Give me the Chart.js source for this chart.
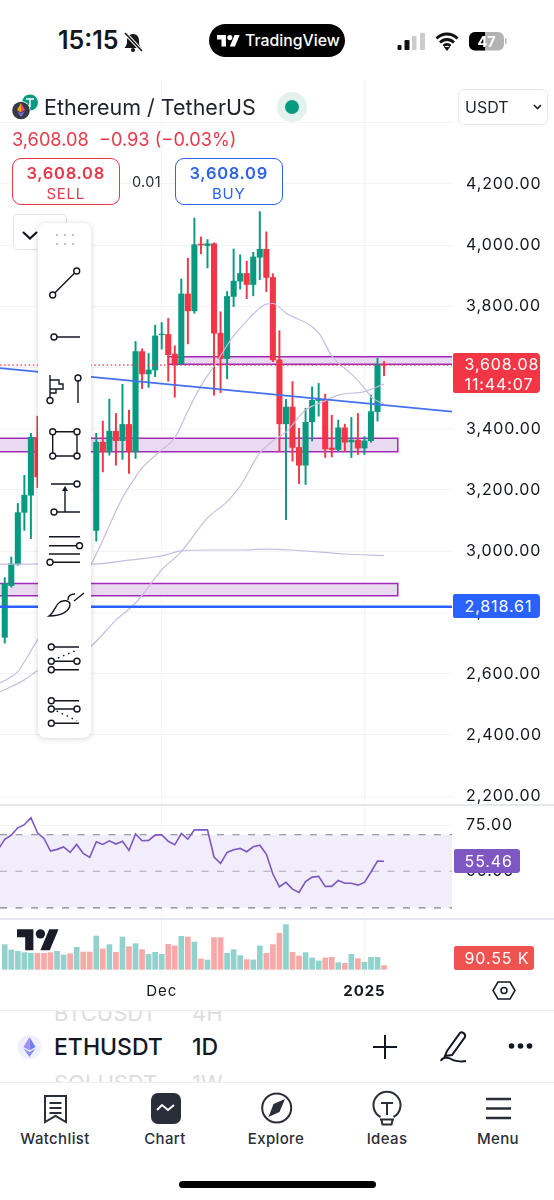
<!DOCTYPE html>
<html><head><meta charset="utf-8">
<script src="https://cdn.jsdelivr.net/npm/chart.js@4/dist/chart.umd.js"></script>
<style>
html,body{margin:0;padding:0;background:#fff;overflow:hidden}
#page{position:relative;width:554px;height:1200px;overflow:hidden;background:#fff;font-family:Inter,"Noto Sans",sans-serif;color:#131722}
canvas{position:absolute;left:0;display:block}
.t{position:absolute;white-space:nowrap;line-height:1}
.tag{letter-spacing:.9px;color:#fff;font-size:16px;left:464.5px}
.nav{width:110px;text-align:center;top:1131px;font-size:15px;letter-spacing:.35px;font-weight:500;color:#2a2e39}
.box{position:absolute;box-sizing:border-box}
svg{position:absolute;left:0;top:0}
</style></head><body><div id="page">
<canvas id="price" width="554" height="725" style="top:80px"></canvas>
<canvas id="rsi" width="554" height="113" style="top:805px"></canvas>
<canvas id="vol" width="554" height="92" style="top:918px"></canvas>

<div class="box" style="left:0;top:804px;width:554px;height:2px;background:#e6e8ef"></div>
<div class="box" style="left:0;top:917.5px;width:554px;height:2px;background:#e6e8ef"></div>

<!-- header -->
<div class="t" style="left:58px;top:28px;font-size:25px;font-weight:600;color:#16171a">15:15</div>
<div class="box" style="left:208.5px;top:24px;width:136.5px;height:33px;border-radius:17px;background:#000"></div>
<div class="t" style="left:245px;top:33px;font-size:15.8px;font-weight:500;color:#fff">TradingView</div>

<div class="t" style="left:44px;top:97px;font-size:21.5px;color:#1e222d">Ethereum / TetherUS</div>
<div class="box" style="left:458px;top:89px;width:90px;height:36px;border:1.5px solid #e4e7ee;border-radius:6px"></div>
<div class="t" style="left:465px;top:99px;font-size:16px;color:#1e222d">USDT</div>
<div class="t" style="left:12px;top:130px;font-size:18.2px;color:#e8394a">3,608.08 &nbsp;−0.93 (−0.03%)</div>

<div class="box" style="left:11.5px;top:158px;width:108.5px;height:47px;border:1.5px solid #e8394a;border-radius:9px;background:#fff"></div>
<div class="t" style="left:11.5px;width:108.5px;text-align:center;top:165px;font-size:16.5px;letter-spacing:.7px;font-weight:600;color:#e8394a">3,608.08</div>
<div class="t" style="left:11.5px;width:108.5px;text-align:center;top:186px;font-size:15px;letter-spacing:.7px;color:#e8394a">SELL</div>
<div class="t" style="left:132px;top:175px;font-size:14.5px;letter-spacing:.3px;color:#2a2e39">0.01</div>
<div class="box" style="left:174.5px;top:158px;width:108.5px;height:47px;border:1.5px solid #2f64e8;border-radius:9px;background:#fff"></div>
<div class="t" style="left:174.5px;width:108.5px;text-align:center;top:165px;font-size:16.5px;letter-spacing:.7px;font-weight:600;color:#2f64e8">3,608.09</div>
<div class="t" style="left:174.5px;width:108.5px;text-align:center;top:186px;font-size:15px;letter-spacing:.7px;color:#2f64e8">BUY</div>
<div class="box" style="left:13px;top:214px;width:54px;height:36px;border:1.5px solid #e0e3eb;border-radius:5px;background:#fff"></div>

<!-- price tags -->
<div class="box" style="left:453px;top:353px;width:87px;height:40px;background:#f23645;border-radius:2px 4px 4px 2px"></div>
<div class="t tag" style="top:356px">3,608.08</div>
<div class="t tag" style="top:376px">11:44:07</div>
<div class="box" style="left:453px;top:594px;width:87px;height:24px;background:#2962ff;border-radius:2px 4px 4px 2px"></div>
<div class="t tag" style="top:598px">2,818.61</div>
<div class="box" style="left:453.5px;top:849px;width:66px;height:24px;background:#7e57c2;border-radius:2px 3px 3px 2px"></div>
<div class="t tag" style="top:853px">55.46</div>
<div class="box" style="left:453.5px;top:946px;width:80.5px;height:24px;background:#ef5350;border-radius:2px 3px 3px 2px"></div>
<div class="t tag" style="top:950px">90.55 K</div>

<!-- toolbar -->
<div class="box" style="left:38px;top:223px;width:53px;height:515px;background:#fff;border-radius:8px;box-shadow:0 1px 6px rgba(20,25,40,.18)"></div>

<!-- footer -->
<div class="box" style="left:0;top:1010px;width:554px;height:73px;overflow:hidden;border-top:1px solid #eceef2;border-bottom:1px solid #eceef2">
 <div class="t" style="left:54px;top:-9px;font-size:22px;color:#dcdde0">BTCUSDT</div>
 <div class="t" style="left:192px;top:-9px;font-size:22px;color:#dcdde0">4H</div>
 <div class="t" style="left:54px;top:25px;font-size:23px;font-weight:500;color:#131722">ETHUSDT</div>
 <div class="t" style="left:192px;top:25px;font-size:23px;font-weight:500;color:#131722">1D</div>
 <div class="t" style="left:54px;top:61px;font-size:22px;color:#dcdde0">SOLUSDT</div>
 <div class="t" style="left:192px;top:61px;font-size:22px;color:#dcdde0">1W</div>
</div>
<div class="t nav" style="left:0">Watchlist</div>
<div class="t nav" style="left:110px">Chart</div>
<div class="t nav" style="left:221px">Explore</div>
<div class="t nav" style="left:332px">Ideas</div>
<div class="t nav" style="left:443px">Menu</div>
<div class="box" style="left:179px;top:1181px;width:197px;height:7px;border-radius:4px;background:#000"></div>

<svg width="554" height="1200" viewBox="0 0 554 1200" fill="none">
 <!-- status bar -->
 <g fill="#16171a"><path d="M133 34c-4 0-6 3-6 7 0 4-1 5-2.500 7h17c-1.500-2-2.500-3-2.500-7 0-4-2-7-6-7z"/><circle cx="133" cy="50" r="2"/></g>
 <path d="M125 33l17 18" stroke="#fff" stroke-width="3.500"/><path d="M125 33l17 18" stroke="#16171a" stroke-width="1.600"/>
 <g fill="#fff" transform="translate(217,32.500) scale(.64)"><path d="M14 22H7V11H0V4h14v18zM28 22h-8l7.500-18h8L28 22z"/><circle cx="20" cy="8" r="4"/></g>
 <rect x="397.500" y="45" width="4" height="5" rx="1" fill="#111"/><rect x="404.500" y="40" width="5" height="10" rx="1" fill="#111"/>
 <rect x="412" y="36" width="4.500" height="14" rx="1" fill="#ccc"/><rect x="420" y="32.700" width="5" height="17.300" rx="1" fill="#ccc"/>
 <path d="M436.500 38.500c6-6 15-6 21 0M440 42.500c4-4 10-4 14 0M443.500 46c2-2 5-2 7 0" stroke="#111" stroke-width="2.800"/>
 <path d="M447 51l-3-4h6z" fill="#111"/>
 <rect x="469" y="32" width="35" height="18.500" rx="6" fill="#b3b3b3"/><path d="M475 32h10v18.500h-10a6 6 0 0 1-6-6v-6.500a6 6 0 0 1 6-6z" fill="#000"/>
 <rect x="505" y="38" width="1.500" height="6" rx=".7" fill="#b3b3b3"/>
 <text x="486.500" y="47" text-anchor="middle" font-family="Inter" font-weight="700" font-size="14.500" fill="#fff">47</text>

 <!-- coin icons -->
 <circle cx="30" cy="102.500" r="8" fill="#089981"/><path d="M26 99h8M30 99v8" stroke="#fff" stroke-width="1.500"/>
 <circle cx="21" cy="110.500" r="9.500" fill="#fff"/><circle cx="21" cy="110.500" r="8.800" fill="#363a45"/>
 <path d="M21 103l-4 7 4 2.500z" fill="#f7a600"/><path d="M21 103l4 7-4 2.500z" fill="#e84a7f"/><path d="M17 111l4 6 4-6-4 2.500z" fill="#7d6ff0"/>
 <circle cx="292" cy="107" r="15" fill="#e3f2ef"/><circle cx="292" cy="107" r="7" fill="#089981"/>
 <path d="M534 105l3.500 3.500 3.500-3.500" stroke="#1e222d" stroke-width="1.600"/>
 <path d="M23 232l7 6.500 7-6.500" stroke="#131722" stroke-width="2.200"/>

 <!-- chart logo -->
 <g fill="#1a1d29" transform="translate(17,924.500) scale(1.170)"><path d="M14 22H7V11H0V4h14v18zM28 22h-8l7.500-18h8L28 22z"/><circle cx="20" cy="8" r="4"/></g>
 <!-- settings hexagon -->
 <path d="M498 982h12l5 8.500-5 8.500h-12l-5-8.500z" stroke="#131722" stroke-width="1.500"/><circle cx="504" cy="990.500" r="3" stroke="#131722" stroke-width="1.500"/>

 <!-- toolbar icons -->
 <g fill="#b2b5be"><circle cx="57" cy="235" r="1.100"/><circle cx="65" cy="235" r="1.100"/><circle cx="73" cy="235" r="1.100"/><circle cx="57" cy="244" r="1.100"/><circle cx="65" cy="244" r="1.100"/><circle cx="73" cy="244" r="1.100"/></g>
 <g stroke="#131722" stroke-width="1.400">
  <path d="M52.700 295L76.700 271M54 337H80M50 375V397M50 380H59V384H63V389H50M50 393H56V389M78 378V403"/>
  <path d="M52.700 431.700H77V456H52.700ZM51 484H74M65 512V489M54 512H80M49 536.700H80M49 545.700H76M49 554H80M53 562.300H80"/>
  <path d="M49 616C55 612 55 605 60 602C64 600 69 600 70 604C70 611 62 616 49 616Z"/>
  <path d="M68 600C68 596 71 594 75 594M74 601L84 593"/>
  <path d="M51.300 647H79M51.300 661.300H77M51.300 669.700H79M51.300 700.700H79M51.300 709H77M51.300 723.300H79"/>
  <path d="M58 658L77 650M56.700 711L77 720.700" stroke-dasharray="1.500 4"/>
  <g fill="#fff">
   <circle cx="52.700" cy="295" r="3"/><circle cx="76.700" cy="271" r="3"/><circle cx="54" cy="337" r="3"/>
   <circle cx="50" cy="400.500" r="3"/><circle cx="78" cy="378" r="3"/>
   <circle cx="52.700" cy="431.700" r="3"/><circle cx="77" cy="431.700" r="3"/><circle cx="52.700" cy="456" r="3"/><circle cx="77" cy="456" r="3"/>
   <circle cx="77" cy="484" r="3"/><circle cx="54" cy="512" r="3"/><circle cx="79.500" cy="545.700" r="3"/><circle cx="50" cy="562.300" r="3"/>
   <circle cx="51.300" cy="647" r="3"/><circle cx="51.300" cy="661.300" r="3"/><circle cx="77" cy="661.300" r="3"/><circle cx="51.300" cy="669.700" r="3"/>
   <circle cx="51.300" cy="700.700" r="3"/><circle cx="51.300" cy="709" r="3"/><circle cx="77" cy="709" r="3"/><circle cx="51.300" cy="723.300" r="3"/>
  </g>
 </g>
 <path d="M65 486l-3 5h6z" fill="#131722"/>

 <!-- footer icons -->
 <circle cx="29.500" cy="1047" r="12" fill="#eef0fb"/>
 <path d="M29.500 1037l6 10-6 3.500z" fill="#6f7ff2"/><path d="M29.500 1037l-6 10 6 3.500z" fill="#a48cf5"/><path d="M23.500 1048.500l6 8.500 6-8.500-6 3.500z" fill="#8a8cf0"/>
 <path d="M385 1035v24M373 1047h24" stroke="#131722" stroke-width="2"/>
 <path d="M447 1051L460 1033C462 1031 466 1034 465 1037L452 1055L445 1056ZM441 1061c1-4 7-4 10-2s10 3 15 2" stroke="#131722" stroke-width="2"/>
 <g fill="#131722"><circle cx="511.500" cy="1046" r="2.800"/><circle cx="520.500" cy="1046" r="2.800"/><circle cx="529.500" cy="1046" r="2.800"/></g>
 <g stroke="#2a2e39" stroke-width="2">
  <path d="M45 1096H66V1122L55.500 1116L45 1122Z"/><path d="M49.500 1103H61.500M49.500 1108H61.500M49.500 1113H61.500"/>
  <circle cx="276.700" cy="1108" r="14.500"/>
  <path d="M380.500 1117a13.500 13.500 0 1 1 13 0M381 1103h12M387 1103v12M380 1119.500h14M381.500 1120l1 4.500h9l1-4.500"/>
 </g>
 <rect x="151" y="1093" width="30" height="31" rx="7" fill="#2a2e39"/><path d="M157 1110l5-5 6 5 6-5" stroke="#fff" stroke-width="2"/>
 <path d="M285 1099L279.500 1112L268.500 1117L273.500 1104Z" fill="#2a2e39"/>
 <path d="M486 1099H511M486 1108.500H511M486 1118H511" stroke="#2a2e39" stroke-width="2.500"/>
</svg>
</div>
<script>
// Days counted from 1 Dec 2024 (x positions of the daily candles); -25 is the candle clipped off the left edge
const firstDay = -25;
const xTickDays = [0, 31];
const xTickLabels = ['Dec', '2025'];
const xMin = -24.725, xMax = 44.39;
const priceTicks = [4400,4200,4000,3800,3600,3400,3200,3000,2800,2600,2400,2200];
const hiddenPriceLabel = 4400;
const rsiTicks = [75, 50];

// null = hidden behind the drawing toolbar or off-chart
const opens = [null,2719,2888,2957,3127,3183,3371,null,null,null,null,null,null,null,null,3068,3356,3325,3392,3361,3414,3325,3652,3579,3592,3707,3708,3644,3612,3840,3785,4003,3998,4004,3712,3629,3832,3882,3907,3871,3960,3986,3894,3625,3416,3471,3339,3281,3423,3492,3496,3337,3332,3403,3357,3363,3337,3361,3456,3609];
const highs = [null,2914,2981,3156,3248,3385,3441,null,null,null,null,null,null,null,null,3385,3425,3497,3450,3545,3461,3685,3661,3646,3738,3747,3760,3671,3889,3957,4088,4026,4018,4007,3782,3848,3987,3968,3947,3976,4109,4043,3906,3720,3496,3554,3401,3467,3537,3548,3513,3444,3428,3415,3437,3450,3374,3510,3630,3620];
const lows = [null,2700,2883,2954,3068,3041,3208,null,null,null,null,null,null,null,null,3033,3259,3314,3281,3300,3254,3303,3531,3535,3570,3660,3555,3503,3612,3677,3777,3971,3925,3510,3518,3563,3799,3856,3825,3834,3887,3848,3619,3325,3103,3294,3221,3218,3360,3441,3306,3308,3325,3325,3306,3316,3316,3356,3425,3573];
const closes = [null,2894,2959,3126,3183,3371,3243,null,null,null,null,null,null,null,null,3356,3325,3392,3361,3414,3325,3652,3579,3592,3703,3709,3642,3612,3840,3785,4001,4000,4004,3712,3629,3832,3882,3907,3871,3961,3986,3894,3625,3416,3471,3339,3281,3421,3493,3496,3334,3332,3403,3356,3363,3337,3360,3456,3609,3608.08];

// Volume in thousands
const volumes = [null,607,476,443,410,394,394,394,410,443,353,385,541,426,426,820,500,607,418,795,558,631,484,369,418,369,615,574,812,795,672,254,230,779,779,394,484,336,238,230,574,394,607,886,1099,418,328,410,279,205,279,295,164,148,369,262,172,295,295,90.55];
const volumeUp = [0,1,1,1,1,1,0,0,0,1,1,0,1,0,0,1,0,1,0,1,0,1,0,1,1,1,0,0,1,0,1,0,1,0,0,1,1,1,0,1,1,0,0,0,1,0,0,1,1,1,0,0,1,0,1,0,1,1,1,0];
const rsiValues = [62,67.5,69.8,73.8,75.5,79.3,71.1,68,61.1,62,63.3,60.3,64.7,59.8,57.6,66.2,64.7,66.7,64.9,66.4,61.4,70.4,66.7,66.9,69.8,70,66.4,64.5,70.7,67.6,72.7,72.7,72.7,57.8,54.3,60.3,61.8,62.5,60.7,63.4,64.3,59.4,48.5,41.5,43.9,40.2,38.4,44.3,46.8,47.2,41.7,41.7,45,43.4,43.4,42.4,43.9,49.6,55.6,55.46];

const ma1Days = [-24.7,-22,-21,-19,-11,-6,-4,-3,0,2,4,6,8,11,13,15,16,17,19,24,26,27,29,31,32,34];
const ma1Values = [2570,2607,2639,2710,2949,3174,3242,3272,3331,3370,3458,3540,3605,3703,3752,3794,3807,3809,3778,3713,3638,3615,3579,3533,3504,3481];
const ma2Days = [-24.7,-21,-19,-11,-7,-4,0,3,7,10,12,15,17,19,22,25,27,31,34];
const ma2Values = [2541,2580,2610,2687,2775,2831,2939,2999,3109,3162,3213,3321,3360,3389,3461,3491,3510,3521,3546];
const ma3Days = [-24.7,-19,-11,-5,0,3,7,12,16,24,28,34];
const ma3Values = [2958,2958,2958,2971,2985,3001,3004,3004,3007,2998,2991,2986];

const trendValues = [3598, 3456];
const lastPrice = 3608.08;
const levelPrice = 2818.61;
const zone1 = [3635, 3611], zone1Days = [1, xMax + 1];
const zone2 = [3369, 3325], zone2Days = [xMin - 1, 36.1];
const zone3 = [2895, 2855], zone3Days = [xMin - 1, 36.1];
const rsiBand = [70, 50, 30];

const GREEN='#089981', RED='#f23645', GRID='#f2f4f8', TICK='#131722';
const days = opens.map((_, i) => firstDay + i);
const candles = days.map((d,i)=> opens[i]==null ? null : ({d,o:opens[i],h:highs[i],l:lows[i],c:closes[i]})).filter(Boolean);
const candleColor = c => (c.raw && c.raw.up) ? GREEN : RED;
const hline = v => [{x:xMin,y:v},{x:xMax,y:v}];
const xy = (xs,ys) => xs.map((x,i)=>({x,y:ys[i]}));
const zone = (ys,ds,order) => ({type:'line',order,tension:0.0001,borderColor:'#a12bb8',borderWidth:1.5,backgroundColor:'#e9d9f1',fill:'shape',pointRadius:0,
  data:[{x:ds[0],y:ys[1]},{x:ds[0],y:ys[0]},{x:ds[1],y:ys[0]},{x:ds[1],y:ys[1]},{x:ds[0],y:ys[1]},{x:ds[1],y:ys[1]}]});
const ma = (xs,ys) => ({type:'line',order:2,borderColor:'#c7bde2',borderWidth:1.2,pointRadius:0,cubicInterpolationMode:'monotone',data:xy(xs,ys)});
const noPad = s => {s.paddingTop=0;s.paddingBottom=0;s.paddingLeft=0;s.paddingRight=0;};
const rightAxis = (extra) => Object.assign({position:'right',border:{display:false},afterFit:s=>{s.width=102;noPad(s);}},extra);
const xAxis = (extra) => Object.assign({type:'linear',min:xMin,max:xMax,offset:false,border:{display:false},
  grid:{color:GRID,drawTicks:false,offset:false},
  afterBuildTicks:s=>{s.ticks=xTickDays.map(value=>({value}));},
  afterFit:noPad,
  ticks:{display:false}},extra);
const spaced = {id:'spaced',beforeDraw(c){c.ctx.letterSpacing='0.9px';}};
const base = {responsive:false,animation:false,layout:{padding:0},plugins:{legend:{display:false},tooltip:{enabled:false}},events:[]};

new Chart(document.getElementById('price'),{type:'bar',plugins:[spaced],data:{datasets:[
  zone(zone1,zone1Days,8), zone(zone2,zone2Days,8), zone(zone3,zone3Days,8),
  {order:6,grouped:false,barThickness:1.3,data:candles.map(c=>({x:c.d,y:[c.l,c.h],up:c.c>=c.o})),backgroundColor:candleColor},
  {order:5,grouped:false,barThickness:5.4,data:candles.map(c=>({x:c.d,y:[Math.min(c.o,c.c),Math.max(c.o,c.c)],up:c.c>=c.o})),backgroundColor:candleColor},
  ma(ma1Days,ma1Values), ma(ma2Days,ma2Values), ma(ma3Days,ma3Values),
  {type:'line',order:1,borderColor:'#4472ee',borderWidth:1.6,pointRadius:0,data:xy([xMin,xMax],trendValues)},
  {type:'line',order:1,borderColor:'#2962ff',borderWidth:2.6,pointRadius:0,data:hline(levelPrice)},
  {type:'line',order:1,borderColor:RED,borderWidth:1.3,borderDash:[1.5,2.6],pointRadius:0,data:hline(lastPrice)}
]},options:{...base,scales:{x:xAxis({}),
  y:rightAxis({min:2171.4,max:4538.8,grid:{color:GRID,drawTicks:false},
    afterBuildTicks:s=>{s.ticks=priceTicks.map(value=>({value}));},
    ticks:{crossAlign:'near',padding:14,color:TICK,font:{family:'Inter',size:16},
      callback:v=>v===hiddenPriceLabel?'':v.toLocaleString('en-US',{minimumFractionDigits:2})}})}}});

new Chart(document.getElementById('rsi'),{type:'line',plugins:[spaced],data:{datasets:[
  {order:5,borderColor:'#7f828c',borderWidth:1.2,borderDash:[7,8.5],pointRadius:0,fill:'+1',backgroundColor:'#f1edfa',data:hline(rsiBand[0])},
  {order:4,borderColor:'#7f828c',borderWidth:1.2,borderDash:[7,8.5],pointRadius:0,data:hline(rsiBand[2])},
  {order:3,borderColor:'#a9abb4',borderWidth:1.1,borderDash:[7,8.5],pointRadius:0,data:hline(rsiBand[1])},
  {order:1,borderColor:'#7e57c2',borderWidth:1.6,pointRadius:0,data:xy(days,rsiValues)}
]},options:{...base,scales:{x:xAxis({}),
  y:rightAxis({min:24.4,max:86.3,grid:{color:GRID,drawTicks:false},
    afterBuildTicks:s=>{s.ticks=rsiTicks.map(value=>({value}));},
    ticks:{crossAlign:'near',padding:14,color:TICK,font:{family:'Inter',size:16},callback:v=>v.toFixed(2)}})}}});

const volPts = days.map((d,i)=> volumes[i]==null ? null : ({x:d,y:volumes[i],up:!!volumeUp[i]})).filter(Boolean);
new Chart(document.getElementById('vol'),{type:'bar',plugins:[spaced],data:{datasets:[
  {grouped:false,barThickness:5,data:volPts,backgroundColor:c=>c.raw&&c.raw.up?'#92d2cc':'#f7a9a7'}
]},options:{...base,scales:{
  x:xAxis({afterFit:s=>{s.height=35;noPad(s);},
    ticks:{display:true,autoSkip:false,maxRotation:0,padding:7,color:TICK,
      callback:v=>xTickLabels[xTickDays.indexOf(v)],
      font:c=>({family:'Inter',size:15,weight:c.tick&&c.tick.value===31?'700':'400'})}}),
  y:rightAxis({min:-140,max:1262,grid:{display:false},ticks:{display:false}})}}});
</script></body></html>
